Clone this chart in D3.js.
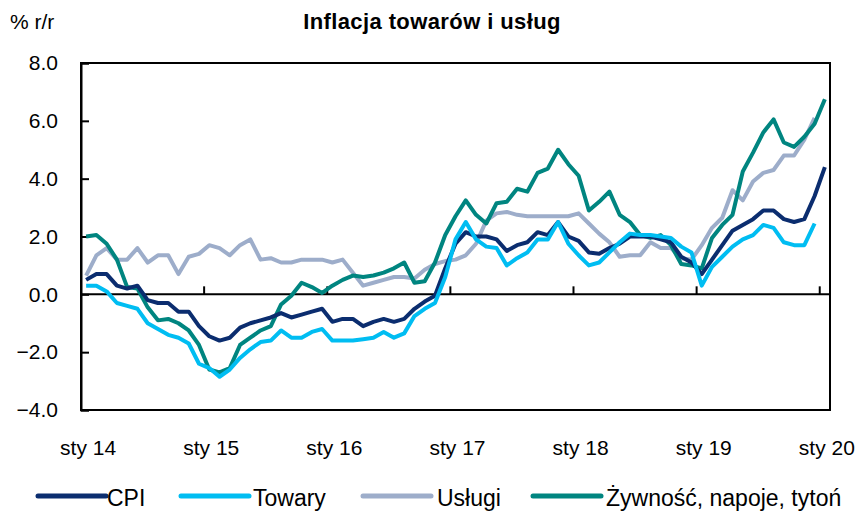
<!DOCTYPE html>
<html>
<head>
<meta charset="utf-8">
<script src="https://cdn.jsdelivr.net/npm/d3@7"></script>
<style>
  html, body { margin: 0; padding: 0; background: #fff; }
  svg { display: block; font-family: "Liberation Sans", Arial, sans-serif; }
</style>
</head>
<body>
<svg id="chart" width="861" height="519"></svg>
<script>
// ---- Data ----
const startYear = 2014;           // first category: styczeń 2014
const monthCount = 73;            // Jan 2014 .. Jan 2020
const monthNames = ["sty","lut","mar","kwi","maj","cze","lip","sie","wrz","paź","lis","gru"];

const xTickLabels = ["sty 14","sty 15","sty 16","sty 17","sty 18","sty 19","sty 20"];
const yTickValues = [-4, -2, 0, 2, 4, 6, 8];

const cpi = [
  0.5, 0.7, 0.7, 0.3, 0.2, 0.3, -0.2, -0.3, -0.3, -0.6, -0.6, -1.1,
  -1.45, -1.6, -1.5, -1.15, -1.0, -0.9, -0.8, -0.65, -0.8, -0.7, -0.6, -0.5,
  -0.95, -0.85, -0.85, -1.1, -0.95, -0.85, -0.95, -0.85, -0.5, -0.25, -0.05, 0.9,
  1.75, 2.15, 2.0, 2.0, 1.9, 1.5, 1.7, 1.8, 2.15, 2.05, 2.5, 2.0,
  1.85, 1.45, 1.4, 1.6, 1.75, 2.0, 2.0, 2.0, 1.9, 1.8, 1.3, 1.1,
  0.7, 1.2, 1.7, 2.2, 2.4, 2.6, 2.9, 2.9, 2.6, 2.5, 2.6, 3.4,
  4.4
];
const towary = [
  0.3, 0.3, 0.1, -0.3, -0.4, -0.5, -1.0, -1.2, -1.4, -1.5, -1.7, -2.4,
  -2.55, -2.85, -2.6, -2.2, -1.9, -1.65, -1.6, -1.25, -1.5, -1.5, -1.3, -1.2,
  -1.6, -1.6, -1.6, -1.55, -1.5, -1.3, -1.5, -1.35, -0.75, -0.5, -0.3, 0.6,
  1.9, 2.5, 1.9, 1.65, 1.6, 1.0, 1.25, 1.45, 1.9, 1.9, 2.5, 1.75,
  1.35, 1.0, 1.1, 1.45, 1.8, 2.1, 2.05, 2.05, 2.0, 1.95, 1.65, 1.45,
  0.3, 0.95, 1.3, 1.65, 1.9, 2.05, 2.4, 2.3, 1.8, 1.7, 1.7, 2.45
];
const uslugi = [
  0.65, 1.35, 1.6, 1.2, 1.2, 1.6, 1.1, 1.35, 1.35, 0.7, 1.3, 1.4,
  1.7, 1.6, 1.35, 1.7, 1.9, 1.2, 1.25, 1.1, 1.1, 1.2, 1.2, 1.2,
  1.1, 1.2, 0.75, 0.3, 0.4, 0.5, 0.6, 0.6, 0.55, 0.85, 1.05, 1.15,
  1.2, 1.35, 1.75, 2.55, 2.8, 2.85, 2.75, 2.7, 2.7, 2.7, 2.7, 2.7,
  2.8, 2.45, 2.1, 1.8, 1.3, 1.35, 1.35, 1.8, 1.6, 1.6, 1.25, 1.2,
  1.7, 2.3, 2.65, 3.6, 3.25, 3.9, 4.2, 4.3, 4.8, 4.8, 5.35, 6.1
];
const zywnosc = [
  2.0, 2.05, 1.75, 1.2, 0.25, 0.2, -0.45, -0.9, -0.85, -1.0, -1.25, -1.75,
  -2.6, -2.7, -2.55, -1.75, -1.5, -1.25, -1.1, -0.35, -0.05, 0.4, 0.25, 0.05,
  0.3, 0.5, 0.65, 0.6, 0.65, 0.75, 0.9, 1.1, 0.4, 0.45, 1.1, 2.05,
  2.7, 3.25, 2.75, 2.45, 3.15, 3.2, 3.65, 3.55, 4.2, 4.35, 5.0, 4.5,
  4.1, 2.9, 3.2, 3.55, 2.75, 2.5, 2.05, 1.95, 2.05, 1.7, 1.05, 1.0,
  0.9, 1.95, 2.4, 2.75, 4.25, 4.9, 5.6, 6.05, 5.25, 5.1, 5.45, 5.9,
  6.75
];

const seriesNames = ["CPI", "Towary", "Usługi", "Żywność, napoje, tytoń"];
const seriesColors = ["#0b2d6f", "#00bdf2", "#9dadca", "#008580"];

// ---- Build ----
const categories = d3.range(monthCount).map(i =>
  monthNames[i % 12] + " " + String((startYear + Math.floor(i / 12)) % 100).padStart(2, "0"));

const series = [
  { name: seriesNames[0], color: seriesColors[0], values: cpi },
  { name: seriesNames[1], color: seriesColors[1], values: towary },
  { name: seriesNames[2], color: seriesColors[2], values: uslugi },
  { name: seriesNames[3], color: seriesColors[3], values: zywnosc }
];

const svg = d3.select("#chart");
const plot = { left: 81, right: 830, top: 63, bottom: 410 };

const x = d3.scaleBand().domain(categories).range([plot.left, plot.right]).paddingInner(0).paddingOuter(0);
const xc = c => x(c) + x.bandwidth() / 2;
const y = d3.scaleLinear().domain([-4, 8]).range([plot.bottom, plot.top]);

// title & unit
svg.append("text").attr("x", 432).attr("y", 29).attr("text-anchor", "middle")
  .attr("font-size", 22).attr("font-weight", "bold").attr("letter-spacing", 0.4)
  .text("Inflacja towarów i usług");
svg.append("text").attr("x", 10).attr("y", 29).attr("font-size", 21).text("% r/r");

// frame
svg.append("rect").attr("x", plot.left).attr("y", plot.top)
  .attr("width", plot.right - plot.left).attr("height", plot.bottom - plot.top)
  .attr("fill", "none").attr("stroke", "#000").attr("stroke-width", 2);

// y axis
const yAxis = d3.axisLeft(y).tickValues(yTickValues).tickFormat(d3.format(".1f")).tickSize(-8).tickPadding(23);
const gy = svg.append("g").attr("transform", `translate(${plot.left},0)`).call(yAxis);
gy.select(".domain").attr("stroke", "#000").attr("stroke-width", 2);
gy.selectAll(".tick line").attr("stroke", "#000").attr("stroke-width", 2);
gy.selectAll(".tick text").attr("font-size", 21).attr("font-family", "Liberation Sans, Arial, sans-serif").attr("fill", "#000");

// x axis along zero line, ticks at year boundaries
const janCats = categories.filter((c, i) => i % 12 === 0);
const tickPos = janCats.slice(1).map(c => x(c));
svg.append("line").attr("x1", plot.left).attr("x2", plot.right)
  .attr("y1", y(0)).attr("y2", y(0)).attr("stroke", "#000").attr("stroke-width", 2);
svg.append("g").selectAll("line").data(tickPos).join("line")
  .attr("x1", d => d).attr("x2", d => d).attr("y1", y(0)).attr("y2", y(0) - 8)
  .attr("stroke", "#000").attr("stroke-width", 2);
svg.append("g").selectAll("text").data(janCats).join("text")
  .attr("x", (c) => xc(c) + 2).attr("y", 455).attr("text-anchor", "middle")
  .attr("font-size", 21).text((c, i) => xTickLabels[i]);

// lines
const line = d3.line().x((d, i) => xc(categories[i])).y(d => y(d)).curve(d3.curveLinear);
const order = [2, 3, 0, 1];
svg.append("g").selectAll("path").data(order.map(k => series[k])).join("path")
  .attr("d", s => line(s.values)).attr("fill", "none")
  .attr("stroke", s => s.color).attr("stroke-width", 4)
  .attr("stroke-linejoin", "round");

// legend
const legendItems = [
  { lx: 38, tx: 107 }, { lx: 181, tx: 253 }, { lx: 363, tx: 437 }, { lx: 533, tx: 606 }
];
const lg = svg.append("g");
series.forEach((s, i) => {
  const it = legendItems[i];
  lg.append("line").attr("x1", it.lx).attr("x2", it.lx + 68).attr("y1", 496).attr("y2", 496)
    .attr("stroke", s.color).attr("stroke-width", 5).attr("stroke-linecap", "round");
  lg.append("text").attr("x", it.tx).attr("y", 506).attr("font-size", 23).text(s.name);
});
</script>
</body>
</html>
